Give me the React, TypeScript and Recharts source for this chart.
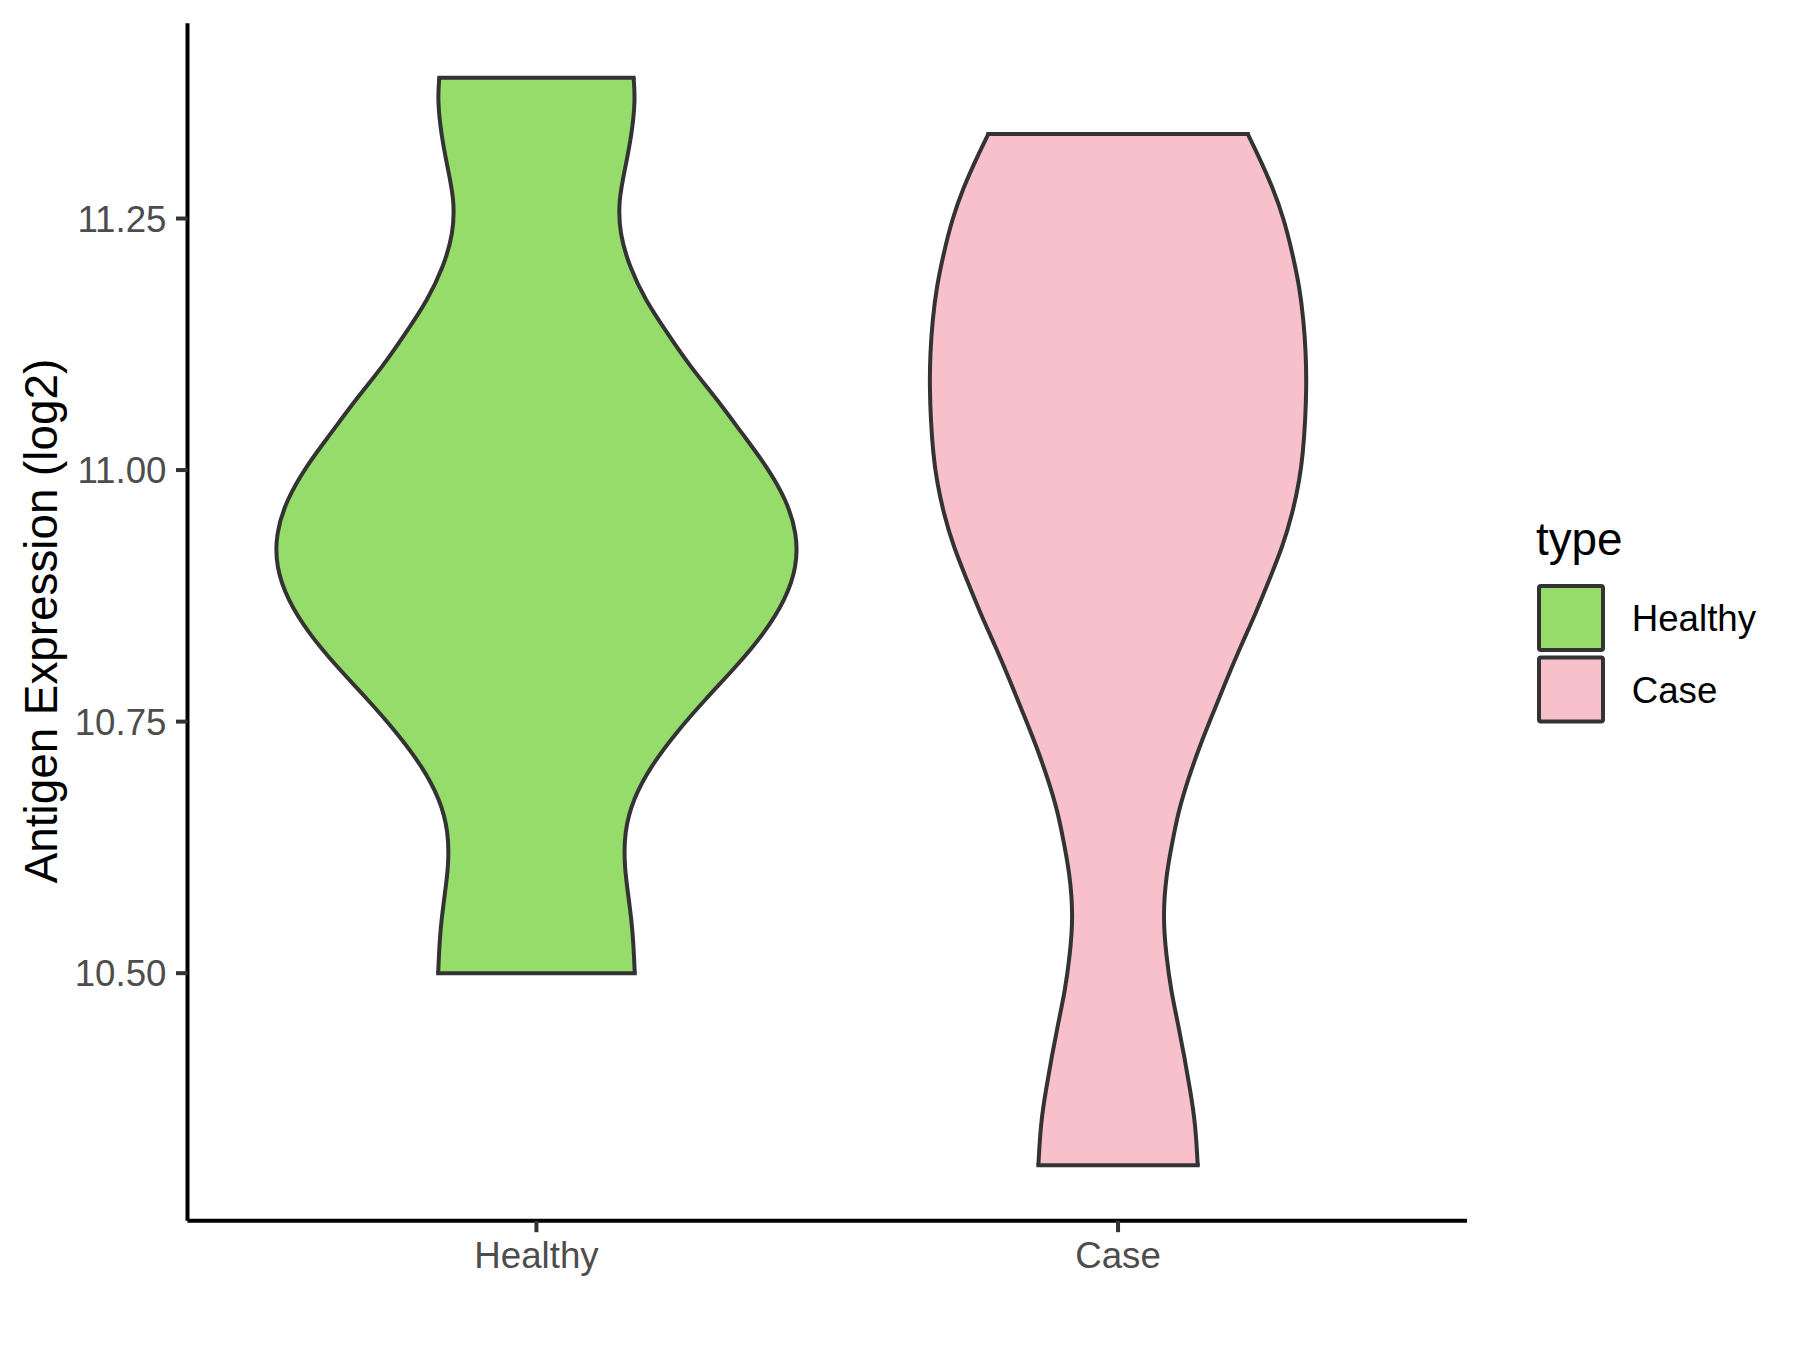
import React from 'react';
import { ComposedChart, Area, XAxis, YAxis, ReferenceLine } from 'recharts';

// ---- data ----
const categories = ['Healthy', 'Case'];
const fills = ['#95DC6B', '#F7C0CB'];
const outline = '#333333';
const yTicks = [10.5, 10.75, 11.0, 11.25];
const yDomain: [number, number] = [10.254, 11.444];
const xDomain: [number, number] = [0.4, 2.6];

const healthyY = [
  10.5, 10.54, 10.573, 10.606, 10.64, 10.673, 10.706, 10.739, 10.772, 10.805, 10.838, 10.871, 10.904,
  10.937, 10.97, 11.003, 11.036, 11.07, 11.103, 11.136, 11.169, 11.202, 11.235, 11.268, 11.301, 11.334,
  11.368, 11.39,
];
const healthyHalfWidth = [
  0.169, 0.166, 0.159, 0.151, 0.151, 0.166, 0.197, 0.24, 0.29, 0.344, 0.392, 0.428, 0.448,
  0.448, 0.43, 0.397, 0.354, 0.311, 0.264, 0.225, 0.187, 0.16, 0.143, 0.141, 0.153, 0.164,
  0.17, 0.167,
];

const caseY = [
  10.309, 10.351, 10.384, 10.417, 10.45, 10.483, 10.517, 10.556, 10.599, 10.632, 10.659, 10.692, 10.725,
  10.758, 10.791, 10.825, 10.858, 10.891, 10.924, 10.957, 10.99, 11.017, 11.05, 11.083, 11.116, 11.149,
  11.182, 11.215, 11.248, 11.281, 11.314, 11.334,
];
const caseHalfWidth = [
  0.137, 0.133, 0.124, 0.114, 0.103, 0.091, 0.083, 0.077, 0.083, 0.094, 0.103, 0.12, 0.14,
  0.163, 0.186, 0.211, 0.237, 0.26, 0.283, 0.3, 0.312, 0.318, 0.322, 0.324, 0.323, 0.319,
  0.312, 0.3, 0.286, 0.266, 0.24, 0.223,
];

const violins = [
  { key: 'healthy', center: 1, ys: healthyY, hws: healthyHalfWidth },
  { key: 'case', center: 2, ys: caseY, hws: caseHalfWidth },
];

// build merged table
type Row = { y: number; [k: string]: any };
const rowMap = new Map<number, Row>();
violins.forEach((v) => {
  v.ys.forEach((y, i) => {
    const r = rowMap.get(y) || { y };
    r[v.key] = [v.center - v.hws[i], v.center + v.hws[i]];
    rowMap.set(y, r);
  });
});
const rows: Row[] = Array.from(rowMap.values()).sort((a, b) => a.y - b.y);
rows.forEach((r) => {
  violins.forEach((v) => {
    if (!r[v.key]) r[v.key] = [null, null];
  });
});

const FONT = '"Liberation Sans", Arial, sans-serif';

export default function App() {
  return (
    <div style={{ position: 'absolute', left: 0, top: 0, width: 1800, height: 1350, background: '#fff' }}>
      <ComposedChart
        width={1800}
        height={1350}
        layout="vertical"
        data={rows}
        margin={{ top: 23.3, right: 333, bottom: 0, left: 0 }}
      >
        <XAxis
          type="number"
          domain={xDomain}
          allowDataOverflow
          ticks={[1, 2]}
          tickFormatter={(v: number) => categories[Math.round(v) - 1]}
          height={129.3}
          tickSize={11.5}
          tickMargin={9.5}
          axisLine={{ stroke: '#000', strokeWidth: 4 }}
          tickLine={{ stroke: outline, strokeWidth: 4 }}
          tick={{ fontSize: 36.7, fill: '#4D4D4D', fontFamily: FONT }}
        />
        <YAxis
          type="number"
          dataKey="y"
          domain={yDomain}
          reversed
          allowDataOverflow
          ticks={yTicks}
          tickFormatter={(v: number) => v.toFixed(2)}
          width={187.5}
          tickSize={11.5}
          tickMargin={9.5}
          axisLine={{ stroke: '#000', strokeWidth: 4 }}
          tickLine={{ stroke: outline, strokeWidth: 4 }}
          tick={{ fontSize: 36.7, fill: '#4D4D4D', fontFamily: FONT }}
        />
        {violins.map((v, i) => (
          <Area
            key={v.key}
            dataKey={v.key}
            type="basis"
            connectNulls
            fill={fills[i]}
            fillOpacity={1}
            stroke={outline}
            strokeWidth={4}
            isAnimationActive={false}
            dot={false}
            activeDot={false}
          />
        ))}
        {violins.map((v) => {
          const lo = 0;
          const hi = v.ys.length - 1;
          return [lo, hi].map((idx) => (
            <ReferenceLine
              key={v.key + idx}
              segment={[
                { x: v.center - v.hws[idx], y: v.ys[idx] },
                { x: v.center + v.hws[idx], y: v.ys[idx] },
              ]}
              stroke={outline}
              strokeWidth={4}
              strokeLinecap="square"
              ifOverflow="visible"
            />
          ));
        })}
      </ComposedChart>
      <svg
        width={1800}
        height={1350}
        style={{ position: 'absolute', left: 0, top: 0, pointerEvents: 'none' }}
      >
        <text
          x={57}
          y={621}
          transform="rotate(-90 57 621)"
          textAnchor="middle"
          fontSize={45.8}
          fontFamily={FONT}
          fill="#000"
        >
          Antigen Expression (log2)
        </text>
        <text x={1536} y={555} fontSize={45.8} fontFamily={FONT} fill="#000">
          type
        </text>
        {categories.map((c, i) => (
          <g key={c}>
            <rect
              x={1539}
              y={586 + i * 71.5}
              width={64}
              height={64}
              rx={2}
              fill={fills[i]}
              stroke={outline}
              strokeWidth={4}
            />
            <text
              x={1631.7}
              y={618 + i * 71.5}
              dy="0.355em"
              fontSize={36.7}
              fontFamily={FONT}
              fill="#000"
            >
              {c}
            </text>
          </g>
        ))}
      </svg>
    </div>
  );
}
